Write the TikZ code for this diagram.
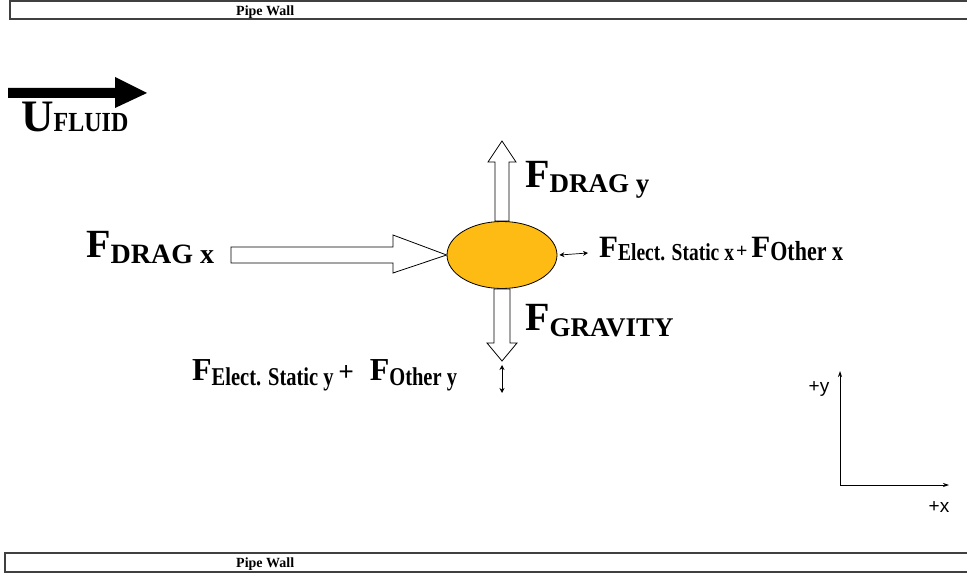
\documentclass[tikz,border=0pt]{standalone}
\usepackage{fontspec}
\usepackage{graphicx}
\setmainfont{Liberation Serif}
\newfontfamily\axisfont{Liberation Sans}
\usetikzlibrary{arrows.meta,shapes.geometric}
\definecolor{particle}{RGB}{253,187,19}

% symbol with a lowered, optionally stretched subscript:
% letter, size of letter, size of subscript, subscript text, drop, vertical stretch
\newcommand{\subsym}[6]{{\fontsize{#2}{#2}\selectfont\bfseries #1}\raisebox{-#5}{\scalebox{1}[#6]{\fontsize{#3}{#3}\selectfont\bfseries #4}}}

\tikzset{
  wall/.style={draw=black!75, line width=1.2pt},
  walltext/.style={font=\fontsize{14}{14}\selectfont\bfseries, inner sep=0pt, anchor=base west},
  label/.style={inner sep=0pt, anchor=base west},
  hollow/.style={draw=black, fill=white, line width=0.8pt, line join=miter},
  thin arrow/.style={{Stealth[length=5pt,width=5pt]}-{Stealth[length=5pt,width=5pt]}, line width=0.7pt},
  axis/.style={-{Stealth[length=6pt,width=4pt]}, line width=0.8pt},
  axislabel/.style={font=\axisfont\fontsize{19}{19}\selectfont, inner sep=0pt}
}

\begin{document}
\begin{tikzpicture}[x=1pt,y=-1pt]
\useasboundingbox (0,0) rectangle (967,575);

% pipe walls
\draw[wall] (10,1) rectangle (975,19);
\node[walltext] (topwall) at (236,16) {Pipe Wall};
\draw[wall] (5,553) rectangle (975,572);
\node[walltext] (botwall) at (236,567) {Pipe Wall};

% fluid velocity arrow
\fill (8,88) -- (115,88) -- (115,77) -- (147,93) -- (115,108) -- (115,98) -- (8,98) -- cycle;
\node[label] (ufluid) at (21,132) {\subsym{U}{45}{24}{FLUID}{0pt}{1.15}};

% particle
\node[ellipse, draw=black, line width=0.8pt, fill=particle, minimum width=110pt, minimum height=67pt, inner sep=0pt] (p) at (502,255) {};

% drag in x (hollow arrow into the particle)
\draw[hollow] (231,247) -- (393,247) -- (393,235) -- (p.west) -- (393,273) -- (393,263) -- (231,263) -- cycle;
% drag in y (hollow arrow up)
\draw[hollow] ([xshift=-7pt]p.north) -- (495,162) -- (488,162) -- (502,141) -- (516,162) -- (509,162) -- ([xshift=7pt]p.north) -- cycle;
% gravity (hollow arrow down)
\draw[hollow] ([xshift=-8pt]p.south) -- (494,343) -- (487,343) -- (502,361) -- (517,343) -- (510,343) -- ([xshift=8pt]p.south) -- cycle;

% small force arrows
\coordinate (ex) at (588,253);
\draw[thin arrow] ([xshift=2pt]p.east) -- (ex);
\coordinate (eytop) at (502,365);
\coordinate (eybot) at (502,393);
\draw[thin arrow] (eytop) -- (eybot);

% force labels
\node[label] (fdragy) at (525,188) {\subsym{F}{40}{27}{DRAG y}{5pt}{1}};
\node[label] (fdragx) at (86,257) {\subsym{F}{40}{28}{DRAG x}{6pt}{1}};
\node[label] (fgrav) at (525,330) {\subsym{F}{40}{27}{GRAVITY}{6pt}{1}};
\node[label] (felx) at (599,257) {\subsym{F}{31}{19.5}{Elect. Static x}{3pt}{1.25}\hspace{2pt}{\fontsize{20}{20}\selectfont\bfseries +}\hspace{4pt}\subsym{F}{31}{22}{Other x}{3pt}{1.25}};
\node[label] (fely) at (192,380) {\subsym{F}{32}{20.5}{Elect. Static y}{5pt}{1.25}\hspace{5pt}{\axisfont\fontsize{26}{26}\selectfont +}\hspace{16pt}\subsym{F}{32}{20.5}{Other y}{5pt}{1.25}};

% coordinate axes
\coordinate (o) at (840,485);
\coordinate (yend) at (840,371);
\coordinate (xend) at (949,485);
\draw[axis] (o) -- (yend);
\draw[axis] (o) -- (xend);
\node[axislabel] (ylab) at (819,389) {+y};
\node[axislabel] (xlab) at (939,507) {+x};
\end{tikzpicture}
\end{document}
